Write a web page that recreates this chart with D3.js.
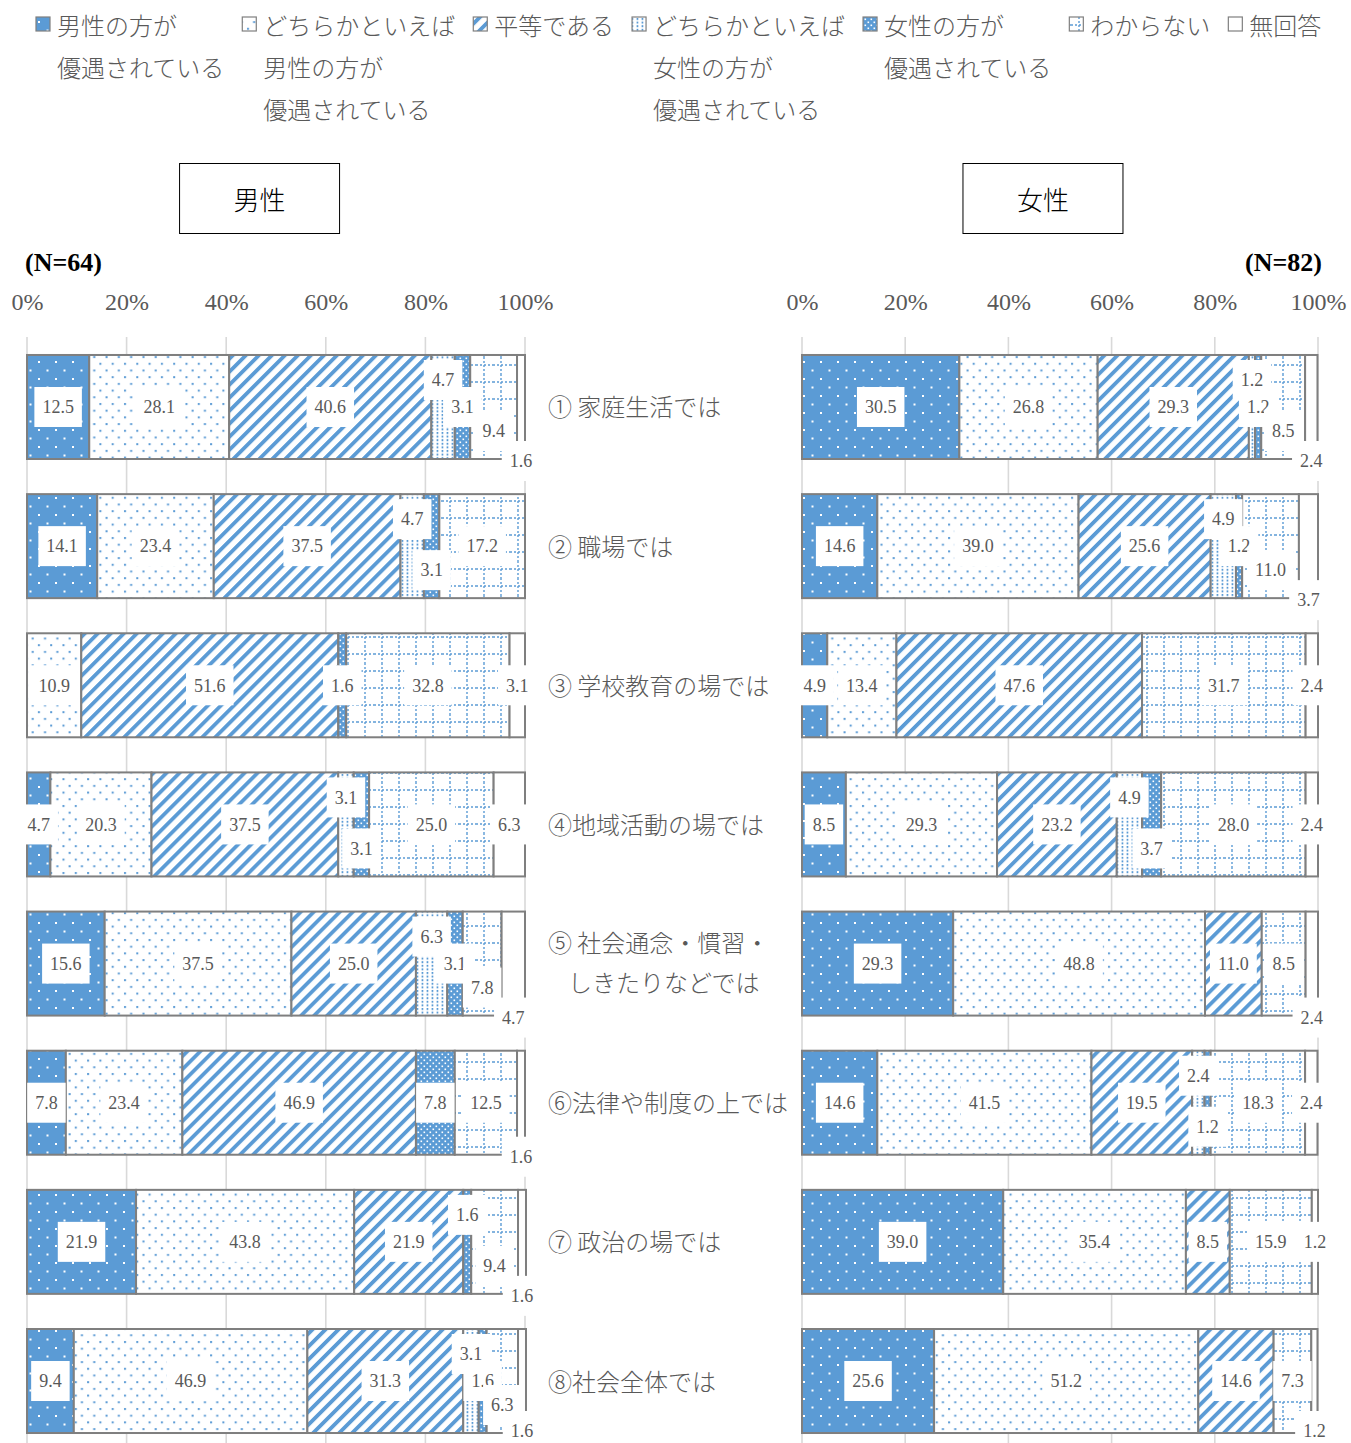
<!DOCTYPE html>
<html lang="ja">
<head>
<meta charset="utf-8">
<script src="https://cdn.jsdelivr.net/npm/d3@7"></script>
<style>
  body { margin: 0; background: #fff; }
  svg { display: block; }
</style>
</head>
<body>
<svg id="chart" width="1351" height="1443"></svg>
<script>
// ---- data -------------------------------------------------------------
const categories = [
  ["① 家庭生活では"],
  ["② 職場では"],
  ["③ 学校教育の場では"],
  ["④地域活動の場では"],
  ["⑤ 社会通念・慣習・", "しきたりなどでは"],
  ["⑥法律や制度の上では"],
  ["⑦ 政治の場では"],
  ["⑧社会全体では"]
];

const seriesLegend = [
  ["男性の方が", "優遇されている"],
  ["どちらかといえば", "男性の方が", "優遇されている"],
  ["平等である"],
  ["どちらかといえば", "女性の方が", "優遇されている"],
  ["女性の方が", "優遇されている"],
  ["わからない"],
  ["無回答"]
];

const tickValues = [0, 20, 40, 60, 80, 100];

// 男性回答 (N=64)
const maleFavorMen      = [12.5, 14.1, 0,    4.7,  15.6, 7.8,  21.9, 9.4];
const maleLeanMen       = [28.1, 23.4, 10.9, 20.3, 37.5, 23.4, 43.8, 46.9];
const maleEqual         = [40.6, 37.5, 51.6, 37.5, 25.0, 46.9, 21.9, 31.3];
const maleLeanWomen     = [4.7,  4.7,  0,    3.1,  6.3,  0,    0,    3.1];
const maleFavorWomen    = [3.1,  3.1,  1.6,  3.1,  3.1,  7.8,  1.6,  1.6];
const maleUnknown       = [9.4,  17.2, 32.8, 25.0, 7.8,  12.5, 9.4,  6.3];
const maleNoAnswer      = [1.6,  0,    3.1,  6.3,  4.7,  1.6,  1.6,  1.6];

// 女性回答 (N=82)
const femaleFavorMen    = [30.5, 14.6, 4.9,  8.5,  29.3, 14.6, 39.0, 25.6];
const femaleLeanMen     = [26.8, 39.0, 13.4, 29.3, 48.8, 41.5, 35.4, 51.2];
const femaleEqual       = [29.3, 25.6, 47.6, 23.2, 11.0, 19.5, 8.5,  14.6];
const femaleLeanWomen   = [1.2,  4.9,  0,    4.9,  0,    2.4,  0,    0];
const femaleFavorWomen  = [1.2,  1.2,  0,    3.7,  0,    1.2,  0,    0];
const femaleUnknown     = [8.5,  11.0, 31.7, 28.0, 8.5,  18.3, 15.9, 7.3];
const femaleNoAnswer    = [2.4,  3.7,  2.4,  2.4,  2.4,  2.4,  1.2,  1.2];

const maleSeries = [maleFavorMen, maleLeanMen, maleEqual, maleLeanWomen, maleFavorWomen, maleUnknown, maleNoAnswer];
const femaleSeries = [femaleFavorMen, femaleLeanMen, femaleEqual, femaleLeanWomen, femaleFavorWomen, femaleUnknown, femaleNoAnswer];

// ---- styling ----------------------------------------------------------
const W = 1351, H = 1443;
const blue = "#5B9BD5";
const textGray = "#595959";
const edgeGray = "#7F7F7F";
const gridGray = "#D9D9D9";
const jpFont = "'Noto Sans CJK JP', 'Noto Sans', sans-serif";
const numFont = "'Liberation Serif', 'DejaVu Serif', serif";

const svg = d3.select("#chart");
const defs = svg.append("defs");

function makePattern(id, w, h, bg, transform) {
  const p = defs.append("pattern")
    .attr("id", id)
    .attr("patternUnits", "userSpaceOnUse")
    .attr("width", w).attr("height", h);
  if (transform) p.attr("patternTransform", transform);
  p.append("rect").attr("width", w).attr("height", h).attr("fill", bg);
  return p;
}

// 0: sparse white dots on blue
let p = makePattern("pat0", 17, 17, blue);
p.append("rect").attr("x", 4).attr("y", 4).attr("width", 2).attr("height", 2).attr("fill", "#fff");
p.append("rect").attr("x", 12.5).attr("y", 12.5).attr("width", 2).attr("height", 2).attr("fill", "#fff");
// 1: blue dots on white
p = makePattern("pat1", 12.3, 13.4, "#fff");
p.append("rect").attr("x", 1).attr("y", 1).attr("width", 2).attr("height", 2).attr("fill", blue);
p.append("rect").attr("x", 7.15).attr("y", 7.7).attr("width", 2).attr("height", 2).attr("fill", blue);
// 2: wide diagonal stripes
p = makePattern("pat2", 9.2, 9.2, "#fff", "rotate(45)");
p.append("rect").attr("width", 3.8).attr("height", 9.2).attr("fill", blue);
// 3: vertical dotted columns
p = makePattern("pat3", 5, 3.6, "#fff");
p.append("rect").attr("x", 1.6).attr("y", 0).attr("width", 1.7).attr("height", 2).attr("fill", blue);
// 4: dense white dots on blue
p = makePattern("pat4", 6, 6, blue);
p.append("rect").attr("x", 0.5).attr("y", 0.5).attr("width", 1.6).attr("height", 1.6).attr("fill", "#fff");
p.append("rect").attr("x", 3.5).attr("y", 3.5).attr("width", 1.6).attr("height", 1.6).attr("fill", "#fff");
// 5: dotted grid
p = makePattern("pat5", 17, 17, "#fff");
p.append("line").attr("x1", 8).attr("x2", 8).attr("y1", 0).attr("y2", 17)
  .attr("stroke", blue).attr("stroke-width", 1.4).attr("stroke-dasharray", "2,2");
p.append("line").attr("x1", 0).attr("x2", 17).attr("y1", 8).attr("y2", 8)
  .attr("stroke", blue).attr("stroke-width", 1.4).attr("stroke-dasharray", "2,2");
// 6: plain
makePattern("pat6", 4, 4, "#fff");

const fillFor = k => `url(#pat${k})`;

// ---- legend -----------------------------------------------------------
const legend = svg.append("g").attr("class", "legend");
let lx = 36;
seriesLegend.forEach((lines, k) => {
  const g = legend.append("g");
  g.append("rect")
    .attr("x", lx).attr("y", 17).attr("width", 14).attr("height", 14)
    .attr("fill", fillFor(k)).attr("stroke", edgeGray).attr("stroke-width", 1.2);
  let maxW = 0;
  lines.forEach((t, j) => {
    const tx = g.append("text")
      .attr("x", lx + 21).attr("y", 24 + 42 * j)
      .attr("dominant-baseline", "central")
      .attr("font-family", jpFont).attr("font-size", 24).attr("font-weight", 300)
      .attr("fill", textGray)
      .text(t);
    maxW = Math.max(maxW, tx.node().getComputedTextLength());
  });
  lx += 21 + maxW + 18;
});

// ---- shared vertical layout ---------------------------------------------
const y = d3.scaleBand()
  .domain(d3.range(categories.length))
  .range([336.9, 1451.1])
  .paddingInner(0.2525)
  .paddingOuter(0.13);

// category labels between the panels
const catG = svg.append("g");
categories.forEach((lines, i) => {
  const cy = y(i) + y.bandwidth() / 2;
  lines.forEach((t, j) => {
    catG.append("text")
      .attr("x", 548 + (j > 0 ? 20 : 0))
      .attr("y", cy - 1 + (lines.length > 1 ? (j === 0 ? -21 : 19) : 0))
      .attr("dominant-baseline", "central")
      .attr("font-family", jpFont).attr("font-size", 24).attr("font-weight", 300)
      .attr("fill", textGray)
      .text(t);
  });
});

// text width measurement for data labels
const ctx = document.createElement("canvas").getContext("2d");
ctx.font = `18px ${numFont}`;
const labelWidth = s => ctx.measureText(s).width + 16;

// stacking order of the small labels inside a crowded group
function tiersFor(cluster) {
  const n = cluster.length;
  if (n === 1) return [0];
  const tail = cluster[n - 1].k === 6;
  const body = tail ? n - 1 : n;
  let stair;
  if (body === 1) stair = [0];
  else stair = d3.range(body).map(j => -1 + 2 * j / (body - 1));
  return tail ? stair.concat([2]) : stair;
}
const tierOffset = t => (t === 2 ? 54 : t < 0 ? t * 27 : t * 24);

// ---- panels -----------------------------------------------------------
const panels = [
  { title: "男性", n: "(N=64)", series: maleSeries, x0: 27, x1: 525, nAnchor: "start" },
  { title: "女性", n: "(N=82)", series: femaleSeries, x0: 802, x1: 1318, nAnchor: "end" }
];

panels.forEach(panel => {
  const x = d3.scaleLinear().domain([0, 100]).range([panel.x0, panel.x1]);
  const g = svg.append("g");

  // title box
  const bx = x(46.7);
  g.append("rect")
    .attr("x", bx - 80).attr("y", 163.5).attr("width", 160).attr("height", 70)
    .attr("fill", "none").attr("stroke", "#000").attr("stroke-width", 1);
  g.append("text")
    .attr("x", bx).attr("y", 198)
    .attr("text-anchor", "middle").attr("dominant-baseline", "central")
    .attr("font-family", jpFont).attr("font-size", 26).attr("font-weight", 300).attr("fill", "#000")
    .text(panel.title);

  // sample size
  g.append("text")
    .attr("x", panel.nAnchor === "start" ? panel.x0 - 2 : panel.x1 + 4)
    .attr("y", 262)
    .attr("text-anchor", panel.nAnchor).attr("dominant-baseline", "central")
    .attr("font-family", numFont).attr("font-size", 26).attr("font-weight", "bold")
    .attr("fill", "#000")
    .text(panel.n);

  // gridlines
  g.append("g").selectAll("line").data(tickValues).join("line")
    .attr("x1", d => x(d)).attr("x2", d => x(d))
    .attr("y1", 337).attr("y2", H)
    .attr("stroke", gridGray).attr("stroke-width", 1.6);

  // axis labels
  const axis = g.append("g").attr("transform", "translate(0,310)")
    .call(d3.axisTop(x).tickValues(tickValues).tickFormat(d => d + "%").tickSize(0).tickPadding(0));
  axis.select(".domain").remove();
  axis.selectAll("text")
    .attr("font-family", numFont).attr("font-size", 24).attr("fill", textGray);

  // stacked bars
  const barG = g.append("g");
  const labelItems = [];
  categories.forEach((_, i) => {
    let acc = 0;
    const rowItems = [];
    panel.series.forEach((vals, k) => {
      const v = vals[i];
      const a = acc;
      acc += v;
      if (!v) return;
      barG.append("rect")
        .attr("x", x(a)).attr("y", y(i))
        .attr("width", x(a + v) - x(a)).attr("height", y.bandwidth())
        .attr("fill", fillFor(k))
        .attr("stroke", edgeGray).attr("stroke-width", 2);
      const text = v.toFixed(1);
      rowItems.push({ k, v, text, cx: x(a + v / 2), w: labelWidth(text), row: i });
    });

    // group labels that would collide, then stagger them
    const clusters = [];
    rowItems.forEach((it, j) => {
      const prev = rowItems[j - 1];
      if (prev && Math.abs(it.cx - prev.cx) < (it.w + prev.w) / 2 - 2) {
        clusters[clusters.length - 1].push(it);
      } else {
        clusters.push([it]);
      }
    });
    clusters.forEach(c => {
      const tiers = tiersFor(c);
      c.forEach((it, j) => {
        const cy = y(i) + y.bandwidth() / 2 + tierOffset(tiers[j]);
        it.cy = Math.min(cy, H - 12);   // keep the last row's outside labels on the page
      });
    });
    labelItems.push(...rowItems);
  });

  // data labels on white boxes
  const labG = g.append("g");
  labelItems.forEach(it => {
    labG.append("rect")
      .attr("x", it.cx - it.w / 2).attr("y", it.cy - 20)
      .attr("width", it.w).attr("height", 40)
      .attr("fill", "#fff");
    labG.append("text")
      .attr("x", it.cx).attr("y", it.cy)
      .attr("dy", "0.35em")
      .attr("text-anchor", "middle")
      .attr("font-family", numFont).attr("font-size", 18)
      .attr("fill", textGray)
      .text(it.text);
  });
});
</script>
</body>
</html>
